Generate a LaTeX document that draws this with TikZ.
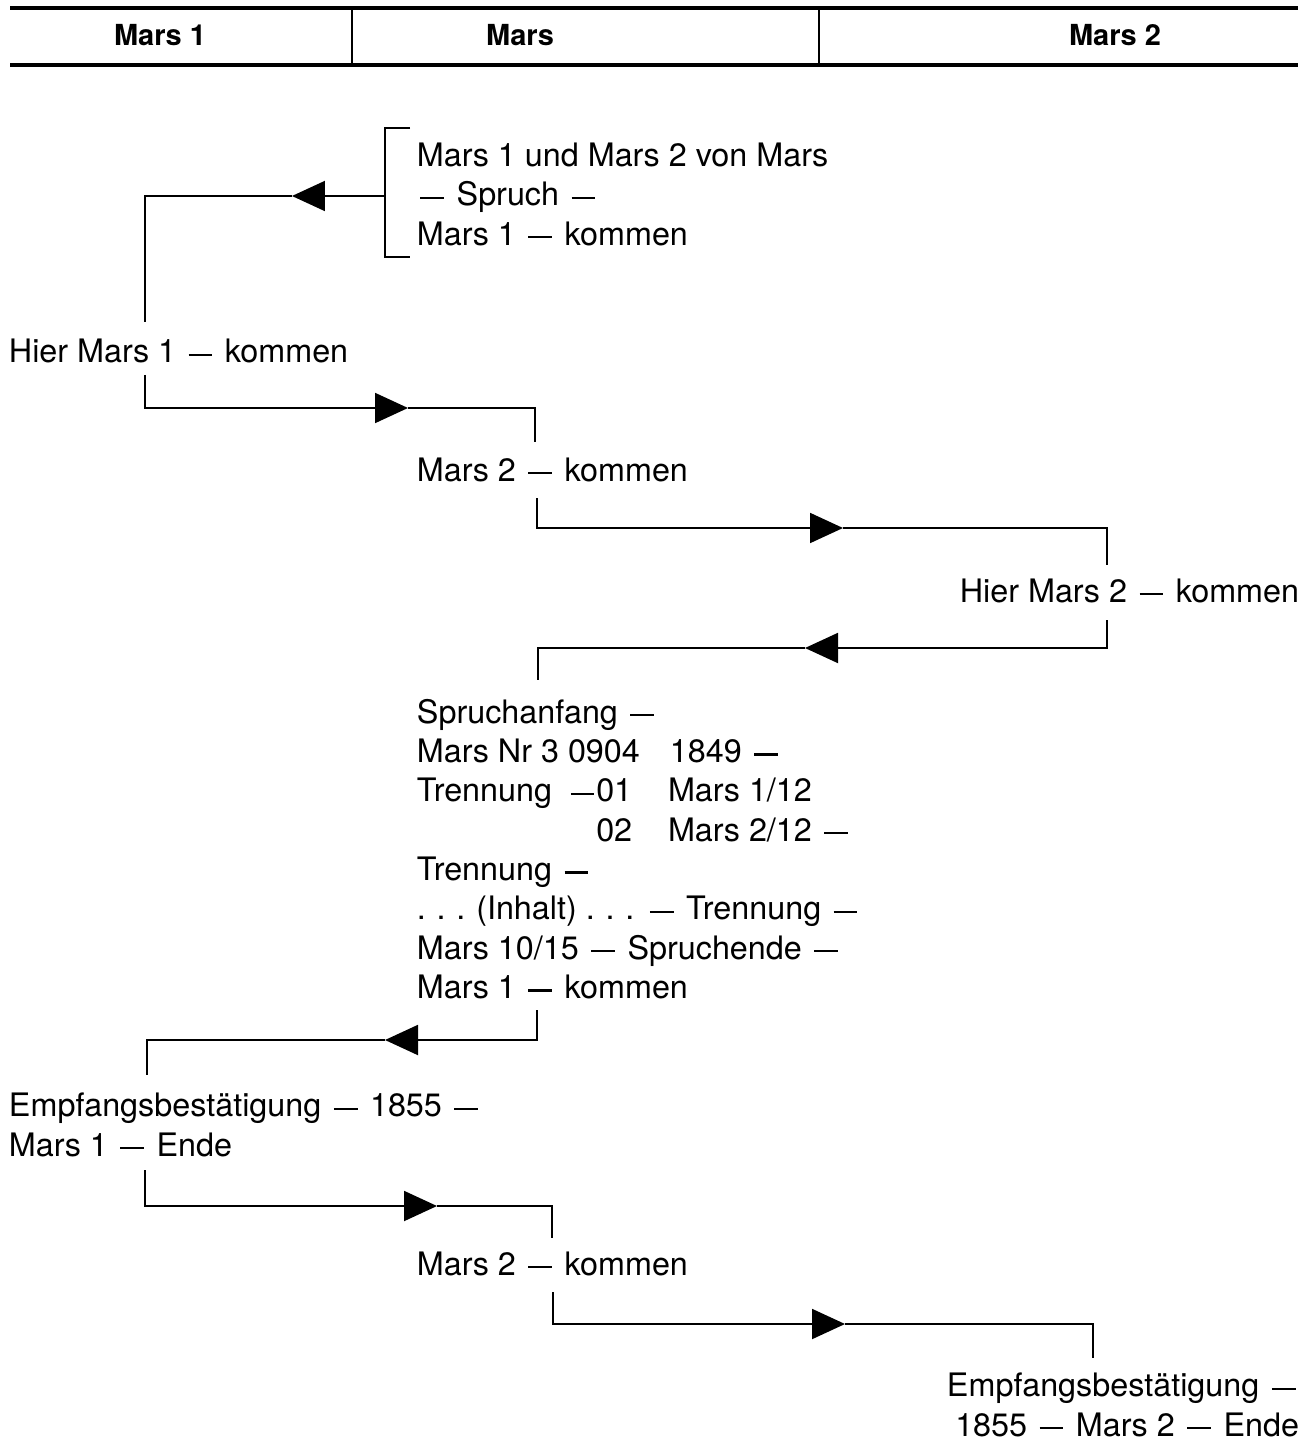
\documentclass[tikz,border=0pt]{standalone}
\usepackage{fontspec}
\setmainfont{TeX Gyre Heros}
\usetikzlibrary{arrows.meta}

% Gedankenstrich wie im Original
\newcommand{\strich}{\rule[3.9pt]{13.5pt}{1.3pt}}
\newcommand{\bis}{\kern2pt\strich\kern2pt}

\begin{document}
\begin{tikzpicture}[x=0.02cm, y=-0.02cm, line width=1.1pt,
		every node/.style={font=\fontsize{18.4}{22.4}\selectfont, inner sep=0pt},
		kopf/.style={font=\fontsize{16.5}{20}\selectfont\bfseries},
		block/.style={align=left, anchor=north west},
		pfeil/.style={-{Triangle[length=0.66cm,width=0.6cm]}}]
		
		\useasboundingbox (0,0) rectangle (1310,1442);
		
		% Kopfzeile
		\draw[line width=2pt] (10,8) -- (1298,8);
		\draw[line width=2pt] (10,65) -- (1298,65);
		\draw (352,8) -- (352,65);
		\draw (819,8) -- (819,65);
		\node[kopf] (kopfa) at (160,35) {Mars 1};
		\node[kopf] (kopfb) at (520,35) {Mars};
		\node[kopf] (kopfc) at (1115,35) {Mars 2};
		
		% Texte
		\node[block] (anruf) at (416,142) {Mars 1 und Mars 2 von Mars\\\bis{} Spruch \bis\\Mars 1 \bis{} kommen};
		\node[anchor=base west] (hiera) at (8,363) {Hier Mars 1 \bis{} kommen};
		\node[anchor=base west] (marsb) at (416,481) {Mars 2 \bis{} kommen};
		\node[anchor=base east] (hierb) at (1300,602) {Hier Mars 2 \bis{} kommen};
		\node[block] (spruch) at (416,698) {Spruchanfang \bis\\
			\makebox[144pt][l]{Mars Nr 3 0904}1849 \bis\\
			\makebox[122.5pt][l]{Trennung\hfill\strich\kern1pt01}\hspace{20.4pt}Mars 1/12\\
			\makebox[122.5pt][r]{02}\hspace{20.4pt}Mars 2/12 \bis\\
			Trennung \bis\\
			.\,\,.\,\,.\,\,(Inhalt) .\,\,.\,\,. \bis{} Trennung \bis\\
			Mars 10/15 \bis{} Spruchende \bis\\
			Mars 1 \bis{} kommen};
		\node[block] (empfa) at (8,1092) {Empfangsbestätigung \bis{} 1855 \bis\\Mars 1 \bis{} Ende};
		\node[anchor=base west] (marsc) at (416,1275) {Mars 2 \bis{} kommen};
		\node[align=right, anchor=north east] (empfb) at (1300,1372) {Empfangsbestätigung \bis\\1855 \bis{} Mars 2 \bis{} Ende};
		
		% Klammer am Anruf
		\coordinate (ka) at (410,128);
		\coordinate (kb) at (410,257);
		\draw (ka) -- (385,128) -- (385,257) -- (kb);
		
		% Verbindungen
		\coordinate (va) at (385,196);
		\coordinate (vat) at (292,196);
		\coordinate (vae) at (145,322);
		\draw[pfeil] (va) -- (vat);
		\draw (vat) -| (vae);
		
		\coordinate (vb) at (145,375);
		\coordinate (vbt) at (408,408);
		\coordinate (vbe) at (535,442);
		\draw[pfeil] (vb) |- (vbt);
		\draw (vbt) -| (vbe);
		
		\coordinate (vc) at (537,498);
		\coordinate (vct) at (843,528);
		\coordinate (vce) at (1107,565);
		\draw[pfeil] (vc) |- (vct);
		\draw (vct) -| (vce);
		
		\coordinate (vd) at (1107,620);
		\coordinate (vdt) at (805,648);
		\coordinate (vde) at (538,680);
		\draw[pfeil] (vd) |- (vdt);
		\draw (vdt) -| (vde);
		
		\coordinate (ve) at (537,1010);
		\coordinate (vet) at (385,1040);
		\coordinate (vee) at (147,1075);
		\draw[pfeil] (ve) |- (vet);
		\draw (vet) -| (vee);
		
		\coordinate (vf) at (145,1170);
		\coordinate (vft) at (437,1206);
		\coordinate (vfe) at (552,1238);
		\draw[pfeil] (vf) |- (vft);
		\draw (vft) -| (vfe);
		
		\coordinate (vg) at (553,1292);
		\coordinate (vgt) at (845,1324);
		\coordinate (vge) at (1093,1358);
		\draw[pfeil] (vg) |- (vgt);
		\draw (vgt) -| (vge);
		
	\end{tikzpicture}
\end{document}
